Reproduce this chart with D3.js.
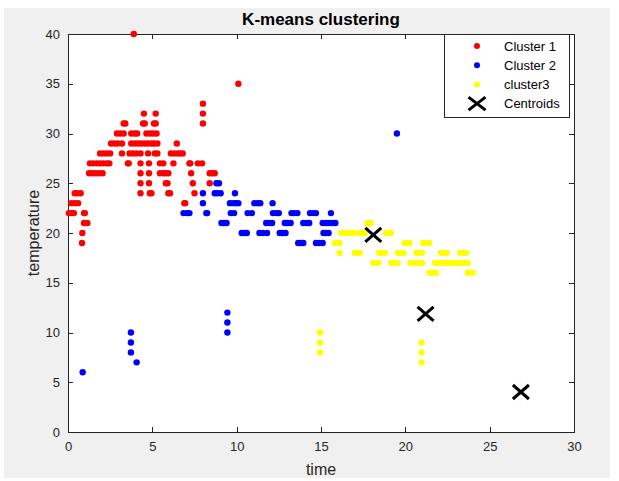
<!DOCTYPE html>
<html lang="en">
<head>
<meta charset="utf-8">
<script src="https://cdn.jsdelivr.net/npm/d3@7"></script>
<style>
    body { margin: 0; background: #ffffff; }
    text { font-family: 'Liberation Sans', Arial, sans-serif; fill: #262626; }
    .axis path, .axis line { stroke: #262626; stroke-width: 1; shape-rendering: crispEdges; }
    .axis text { font-size: 13px; }
    .title { font-size: 17px; font-weight: bold; fill: #000; }
    .label { font-size: 16px; }
    .legend text { font-size: 13px; fill: #000; }
</style>
</head>
<body>
<div id="chart"></div>
<script>
    // rows of points: [temperature, [time values...]]
    var cluster1 = [
        [40, [3.9]],
        [35, [10.1]],
        [33, [8.0]],
        [32, [4.5, 5.2, 8.0]],
        [31, [3.3, 3.4, 4.45, 4.55, 5.1, 5.2, 8.0]],
        [30, [2.9, 3.1, 3.3, 3.75, 3.95, 4.1, 4.65, 4.85, 5.05, 5.25]],
        [29, [2.55, 2.75, 2.95, 3.2, 3.75, 3.95, 4.15, 4.35, 4.55, 4.75, 4.95, 5.1, 5.3, 6.45]],
        [28, [1.9, 2.1, 2.3, 2.5, 3.2, 3.65, 3.85, 4.05, 4.3, 4.75, 5.15, 5.3, 6.1, 6.3, 6.5, 6.65, 6.8]],
        [27, [1.3, 1.5, 1.7, 1.9, 2.1, 2.3, 2.45, 3.55, 3.6, 4.3, 4.8, 5.45, 5.65, 6.25, 7.2, 7.25, 7.7, 7.95]],
        [26, [1.25, 1.45, 1.65, 1.85, 2.05, 4.3, 4.8, 5.45, 5.65, 5.8, 5.95, 7.3, 8.4, 8.55, 8.7]],
        [25, [4.3, 4.8, 5.8, 5.9, 7.4, 8.4]],
        [24, [0.4, 0.55, 0.75, 4.3, 4.85, 4.95, 5.95, 6.05, 7.5]],
        [23, [0.2, 0.4, 0.6, 6.9, 6.95]],
        [22, [0.05, 0.2, 0.35, 0.95, 1.0]],
        [21, [0.95, 1.15]],
        [20, [0.85]],
        [19, [0.83]]
    ];

    var cluster2 = [
        [30, [19.5]],
        [25, [8.8, 8.95]],
        [24, [8.0, 8.7, 8.85, 9.05, 9.9]],
        [23, [8.0, 9.6, 9.8, 9.95, 10.1, 11.05, 11.25, 11.4, 12.13]],
        [22, [6.85, 7.05, 7.2, 8.2, 8.25, 9.65, 9.85, 10.65, 10.9, 12.15, 12.35, 12.5, 13.25, 13.4, 13.6, 14.35, 14.55, 14.7, 15.59]],
        [21, [9.1, 9.25, 9.4, 11.75, 11.95, 12.1, 12.85, 13.0, 13.2, 13.95, 14.15, 14.3, 15.1, 15.3, 15.5, 15.7, 15.85]],
        [20, [10.3, 10.45, 10.6, 11.35, 11.55, 11.8, 12.55, 12.7, 12.9, 15.15, 15.3, 15.45]],
        [19, [13.65, 13.8, 13.95, 14.7, 14.9, 15.1]],
        [12, [9.45]],
        [11, [9.45]],
        [10, [3.73, 9.45]],
        [9, [3.73]],
        [8, [3.73]],
        [7, [4.07]],
        [6, [0.87]]
    ];

    var cluster3 = [
        [21, [17.75, 17.95]],
        [20, [16.2, 16.4, 16.6, 16.8, 16.95, 17.3, 17.45, 17.6, 18.85, 19.0, 19.15]],
        [19, [15.85, 16.1, 19.95, 20.1, 20.25, 21.05, 21.2, 21.4]],
        [18, [16.1, 17.0, 17.15, 17.3, 18.45, 18.6, 18.8, 19.55, 19.7, 19.9, 20.65, 20.8, 21.0, 22.1, 22.3, 22.45, 23.25, 23.45, 23.6]],
        [17, [18.1, 18.25, 18.4, 19.15, 19.35, 19.55, 20.3, 20.5, 20.65, 20.8, 21.0, 21.75, 21.95, 22.15, 22.35, 22.55, 22.75, 22.95, 23.15, 23.35, 23.5, 23.7]],
        [16, [21.45, 21.6, 21.8, 23.7, 24.0]],
        [10, [14.94]],
        [9, [14.94, 20.96]],
        [8, [14.94, 20.96]],
        [7, [20.96]]
    ];

    var centroids = [[18.1, 19.8], [21.2, 11.86], [26.85, 4.02]];

    var seriesNames = ["Cluster 1", "Cluster 2", "cluster3", "Centroids"];
    var seriesColors = ["#ff0000", "#0000ff", "#ffff00", "#000000"];
    var xTicks = [0, 5, 10, 15, 20, 25, 30];
    var yTicks = [0, 5, 10, 15, 20, 25, 30, 35, 40];

    var W = 619, H = 481;
    var margin = {top: 34, right: 45, bottom: 49, left: 68};
    var width = W - margin.left - margin.right;
    var height = H - margin.top - margin.bottom;

    var svg = d3.select("#chart").append("svg")
        .attr("width", W)
        .attr("height", H);

    // figure background
    svg.append("rect")
        .attr("x", 4).attr("y", 8)
        .attr("width", 606).attr("height", 470)
        .attr("fill", "#f0f0f0");

    var g = svg.append("g")
        .attr("transform", "translate(" + margin.left + "," + margin.top + ")");

    var x = d3.scaleLinear().domain([0, 30]).range([0, width]);
    var y = d3.scaleLinear().domain([0, 40]).range([height, 0]);

    g.append("rect")
        .attr("width", width).attr("height", height)
        .attr("fill", "#fff");

    // axes first, ticks inside on all four sides; markers go on top
    g.append("g").attr("class", "axis")
        .attr("transform", "translate(0," + height + ")")
        .call(d3.axisBottom(x).tickValues(xTicks).tickSizeInner(-5).tickSizeOuter(0).tickPadding(10));
    g.append("g").attr("class", "axis")
        .call(d3.axisTop(x).tickValues(xTicks).tickSizeInner(-5).tickSizeOuter(0).tickFormat(""));
    g.append("g").attr("class", "axis")
        .call(d3.axisLeft(y).tickValues(yTicks).tickSizeInner(-5).tickSizeOuter(0).tickPadding(8));
    g.append("g").attr("class", "axis")
        .attr("transform", "translate(" + width + ",0)")
        .call(d3.axisRight(y).tickValues(yTicks).tickSizeInner(-5).tickSizeOuter(0).tickFormat(""));

    function flatten(rows) {
        var pts = [];
        rows.forEach(function (r) {
            r[1].forEach(function (t) { pts.push([t, r[0]]); });
        });
        return pts;
    }

    var plot = g.append("g");

    [cluster1, cluster2, cluster3].forEach(function (c, i) {
        plot.selectAll(".c" + i)
            .data(flatten(c))
            .enter().append("circle")
            .attr("class", "c" + i)
            .attr("cx", function (d) { return x(d[0]); })
            .attr("cy", function (d) { return y(d[1]); })
            .attr("r", 3.2)
            .attr("fill", seriesColors[i]);
    });

    function xMark(sel, hx, hy) {
        sel.attr("d", "M" + (-hx) + "," + (-hy) + "L" + hx + "," + hy +
            "M" + (-hx) + "," + hy + "L" + hx + "," + (-hy))
            .attr("stroke", "#000")
            .attr("stroke-width", 3)
            .attr("fill", "none");
    }

    plot.selectAll(".cent")
        .data(centroids)
        .enter().append("path")
        .attr("class", "cent")
        .attr("transform", function (d) { return "translate(" + x(d[0]) + "," + y(d[1]) + ")"; })
        .call(xMark, 8, 7);

    // title and labels
    svg.append("text").attr("class", "title")
        .attr("x", margin.left + width / 2).attr("y", 25)
        .attr("text-anchor", "middle")
        .text("K-means clustering");
    svg.append("text").attr("class", "label")
        .attr("x", margin.left + width / 2).attr("y", 475)
        .attr("text-anchor", "middle")
        .text("time");
    svg.append("text").attr("class", "label")
        .attr("transform", "translate(39," + (margin.top + height / 2) + ") rotate(-90)")
        .attr("text-anchor", "middle")
        .text("temperature");

    // legend
    var legend = svg.append("g").attr("class", "legend")
        .attr("transform", "translate(444,34)");
    legend.append("rect")
        .attr("width", 125).attr("height", 83)
        .attr("fill", "#fff")
        .attr("stroke", "#262626")
        .attr("stroke-width", 1)
        .attr("shape-rendering", "crispEdges");

    var items = legend.selectAll(".item")
        .data(seriesNames)
        .enter().append("g")
        .attr("class", "item")
        .attr("transform", function (d, i) { return "translate(0," + (12 + i * 19.2) + ")"; });

    items.filter(function (d, i) { return i < 3; })
        .append("circle")
        .attr("cx", 33).attr("r", 3)
        .attr("fill", function (d, i) { return seriesColors[i]; });
    items.filter(function (d, i) { return i === 3; })
        .append("path")
        .attr("transform", "translate(33,0)")
        .call(xMark, 8.5, 6.5);

    items.append("text")
        .attr("x", 60).attr("dy", "0.35em")
        .text(function (d) { return d; });
</script>
</body>
</html>
